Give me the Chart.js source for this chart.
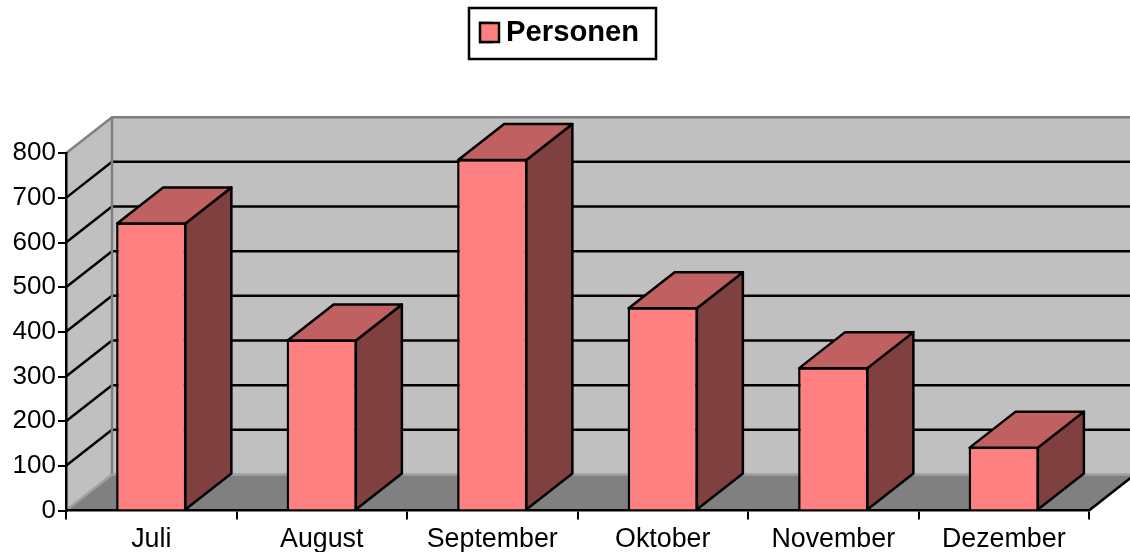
<!DOCTYPE html>
<html><head><meta charset="utf-8">
<style>html,body{margin:0;padding:0;background:#fff}#w{width:1130px;height:552px}</style>
<script src="https://cdn.jsdelivr.net/npm/chart.js@4"></script>
</head><body><div id="w"><canvas id="c" width="1130" height="552"></canvas></div>
<script>
const categories = ['Juli','August','September','Oktober','November','Dezember'];
const seriesLabel = 'Personen';
const personen = [645, 383, 787, 455, 321, 143];
const DX = 46, DY = 36;
const FONT = '"Liberation Sans", Arial, sans-serif';
function poly(ctx, pts, fill, stroke, lw){
  ctx.beginPath(); pts.forEach((p,i)=> i?ctx.lineTo(p[0],p[1]):ctx.moveTo(p[0],p[1])); ctx.closePath();
  if(fill){ctx.fillStyle=fill;ctx.fill();}
  if(stroke){ctx.strokeStyle=stroke;ctx.lineWidth=lw;ctx.lineJoin='round';ctx.stroke();}
}
const plugin3d = {
  id:'plugin3d',
  afterLayout(chart){
    const l = chart.legend;
    l.left = 479; l.right = 650; l.top = 18; l.bottom = 48;
  },
  beforeDraw(chart){
    const {ctx, chartArea:a, scales:{y}} = chart;
    const L=a.left,R=a.right,T=a.top,B=a.bottom;
    ctx.save();
    poly(ctx,[[L+DX,T-DY],[R+DX,T-DY],[R+DX,B-DY],[L+DX,B-DY]],'#c0c0c0');
    poly(ctx,[[L,T],[L+DX,T-DY],[L+DX,B-DY],[L,B]],'#c0c0c0');
    poly(ctx,[[L,B],[L+DX,B-DY],[R+DX,B-DY],[R,B]],'#808080');
    ctx.strokeStyle='#000';ctx.lineWidth=2.5;ctx.lineJoin='miter';
    y.ticks.forEach(t=>{
      if(t.value<=0||t.value>=y.max) return;
      const p=y.getPixelForValue(t.value);
      ctx.beginPath();ctx.moveTo(L,p);ctx.lineTo(L+DX,p-DY);ctx.lineTo(R+DX,p-DY);ctx.stroke();
    });
    ctx.strokeStyle='#808080';ctx.lineWidth=2.5;
    ctx.beginPath();ctx.moveTo(L,T);ctx.lineTo(L+DX,T-DY);ctx.lineTo(R+DX,T-DY);
    ctx.moveTo(L+DX,T-DY);ctx.lineTo(L+DX,B-DY);ctx.stroke();
    ctx.strokeStyle='#a0a0a0';ctx.lineWidth=2.5;
    ctx.beginPath();ctx.moveTo(L,B);ctx.lineTo(L+DX,B-DY);ctx.lineTo(R+DX,B-DY);ctx.stroke();
    ctx.strokeStyle='#000';ctx.lineWidth=2.5;
    ctx.beginPath();ctx.moveTo(R,B);ctx.lineTo(R+DX,B-DY);ctx.stroke();
    ctx.fillStyle='#fff';ctx.strokeStyle='#000';ctx.lineWidth=2.5;
    ctx.fillRect(469,8,187,51);ctx.strokeRect(469,8,187,51);
    ctx.restore();
  },
  afterDatasetsDraw(chart){
    const {ctx} = chart;
    const meta = chart.getDatasetMeta(0);
    ctx.save();
    meta.data.forEach(b=>{
      const l=b.x-b.width/2+1,r=b.x+b.width/2-1,t=b.y+1,bt=b.base;
      poly(ctx,[[r,t],[r+DX,t-DY],[r+DX,bt-DY],[r,bt]],'#804040','#000',2.5);
      poly(ctx,[[l,t],[l+DX,t-DY],[r+DX,t-DY],[r,t]],'#c06060','#000',2.5);
    });
    ctx.restore();
  },
  afterDraw(chart){
    const {ctx} = chart;
    const item = chart.legend.legendItems[0];
    ctx.save();
    ctx.fillStyle=item.fillStyle;ctx.strokeStyle=item.strokeStyle;ctx.lineWidth=2.5;
    ctx.fillRect(480,23,19,19);ctx.strokeRect(480,23,19,19);
    ctx.restore();
  }
};
new Chart(document.getElementById('c'),{
  type:'bar',
  data:{labels:categories,datasets:[{label:seriesLabel,data:personen,backgroundColor:'#ff8080',borderColor:'#000',borderWidth:2.5,barPercentage:0.412,categoryPercentage:1}]},
  plugins:[plugin3d],
  options:{
    responsive:false,animation:false,
    layout:{padding:{left:0,right:41,top:114,bottom:0}},
    plugins:{
      tooltip:{enabled:false},
      legend:{display:true,position:'top',align:'start',
        labels:{boxWidth:12.5,boxHeight:19,padding:0,color:'#000',font:{family:FONT,size:29.2,weight:'bold'}}}
    },
    scales:{
      x:{offset:true,
        grid:{offset:true,drawOnChartArea:false,drawTicks:true,tickLength:9,color:'#000',lineWidth:2},
        border:{display:true,color:'#000',width:2.5},
        afterFit(s){s.height=41.5;},
        ticks:{color:'#000',padding:4,maxRotation:0,minRotation:0,autoSkip:false,font:{family:FONT,size:26.8}}},
      y:{min:0,max:800,
        grid:{drawOnChartArea:false,drawTicks:true,tickLength:8,color:'#000',lineWidth:2},
        border:{display:true,color:'#000',width:2.5},
        afterFit(s){s.width=66;},
        ticks:{stepSize:100,color:'#000',padding:2,font:{family:FONT,size:26}}}
    }
  }
});
</script></body></html>
